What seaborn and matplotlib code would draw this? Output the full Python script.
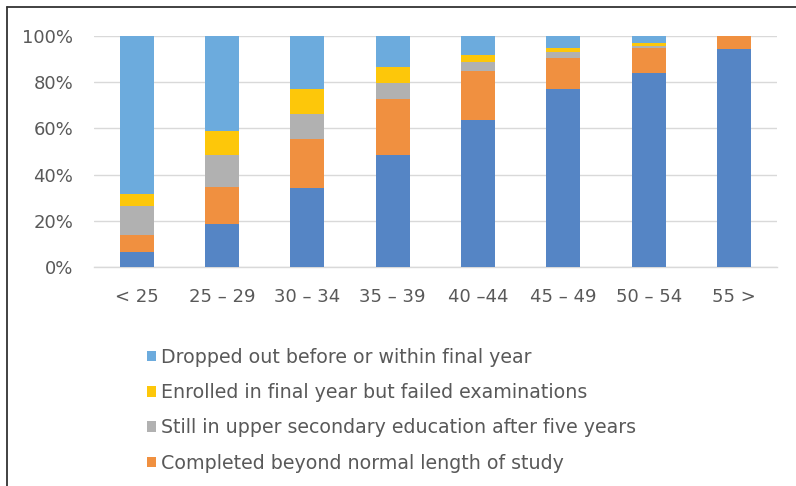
import matplotlib
matplotlib.use("Agg")
import matplotlib.pyplot as plt
from matplotlib.lines import Line2D
from matplotlib.patches import Patch
from matplotlib.ticker import PercentFormatter
import seaborn as sns
import pandas as pd
import numpy as np

categories = ["< 25", "25 – 29", "30 – 34", "35 – 39", "40 –44", "45 – 49", "50 – 54", "55 >"]
completed_normal = [6.5, 18.6, 34.2, 48.5, 63.6, 76.9, 83.8, 94.2]
completed_beyond = [7.4, 16.0, 21.2, 24.2, 21.2, 13.7, 10.9, 5.8]
still_enrolled = [12.6, 13.9, 11.0, 7.0, 4.1, 2.3, 1.1, 0.0]
failed_exams = [5.2, 10.5, 10.5, 6.9, 2.9, 1.8, 1.2, 0.0]
dropped_out = [68.3, 41.0, 23.1, 13.4, 8.2, 5.3, 3.0, 0.0]

series_names = [
    "Completed within normal length of study",
    "Completed beyond normal length of study",
    "Still in upper secondary education after five years",
    "Enrolled in final year but failed examinations",
    "Dropped out before or within final year",
]
series_values = [completed_normal, completed_beyond, still_enrolled, failed_exams, dropped_out]
colors = ["#5585C5", "#F09040", "#B1B1B1", "#FDC70A", "#6CABDD"]

sns.set_theme(style="white")
plt.rcParams["font.family"] = ["DejaVu Sans"]
text_color = "#595959"

fig = plt.figure(figsize=(7.96, 4.86), dpi=100)
fig.patch.set_facecolor("white")
ax = fig.add_axes([94 / 796, 1 - 267 / 486, (776.7 - 94) / 796, (267 - 36) / 486])

cum = np.cumsum(np.array(series_values), axis=0)
df = pd.DataFrame({"category": categories})
for name, c in zip(series_names, cum):
    df[name] = c

# draw from the top of the stack down so each layer covers the one above it
for name, col in reversed(list(zip(series_names, colors))):
    sns.barplot(data=df, x="category", y=name, order=categories, color=col,
                saturation=1, width=0.4, errorbar=None, ax=ax, linewidth=0, zorder=3)

ax.set_ylim(0, 100)
ax.set_xlim(-0.5, 7.5)
ax.set_yticks([0, 20, 40, 60, 80, 100])
ax.yaxis.set_major_formatter(PercentFormatter(decimals=0))
ax.set_xlabel("")
ax.set_ylabel("")
ax.grid(axis="y", color="#D9D9D9", linewidth=1, zorder=0)
ax.grid(axis="x", visible=False)
for s in ["top", "right", "left"]:
    ax.spines[s].set_visible(False)
ax.spines["bottom"].set_color("#D9D9D9")
ax.spines["bottom"].set_linewidth(1)
ax.tick_params(axis="both", length=0, labelsize=13, labelcolor=text_color, pad=15)
ax.set_axisbelow(True)

# legend (order as in the picture)
leg_idx = [4, 3, 2, 1]
handles = [Patch(facecolor=colors[i], edgecolor="none") for i in leg_idx]
labels = [series_names[i] for i in leg_idx]
leg = fig.legend(handles, labels, loc="upper left", bbox_to_anchor=(147 / 796, 1 - 348 / 486),
                 frameon=False, fontsize=13.7, labelcolor=text_color, borderpad=0,
                 borderaxespad=0, handlelength=0.45, handleheight=0.45, handletextpad=0.3,
                 labelspacing=0.85)

# screenshot frame (left and top edges)
fig.add_artist(Line2D([7 / 796, 7 / 796], [0, 1 - 7 / 486], transform=fig.transFigure,
                      color="#333333", linewidth=1.3))
fig.add_artist(Line2D([7 / 796, 1], [1 - 7 / 486, 1 - 7 / 486], transform=fig.transFigure,
                      color="#333333", linewidth=1.3))

fig.savefig("out.png", dpi=100)
